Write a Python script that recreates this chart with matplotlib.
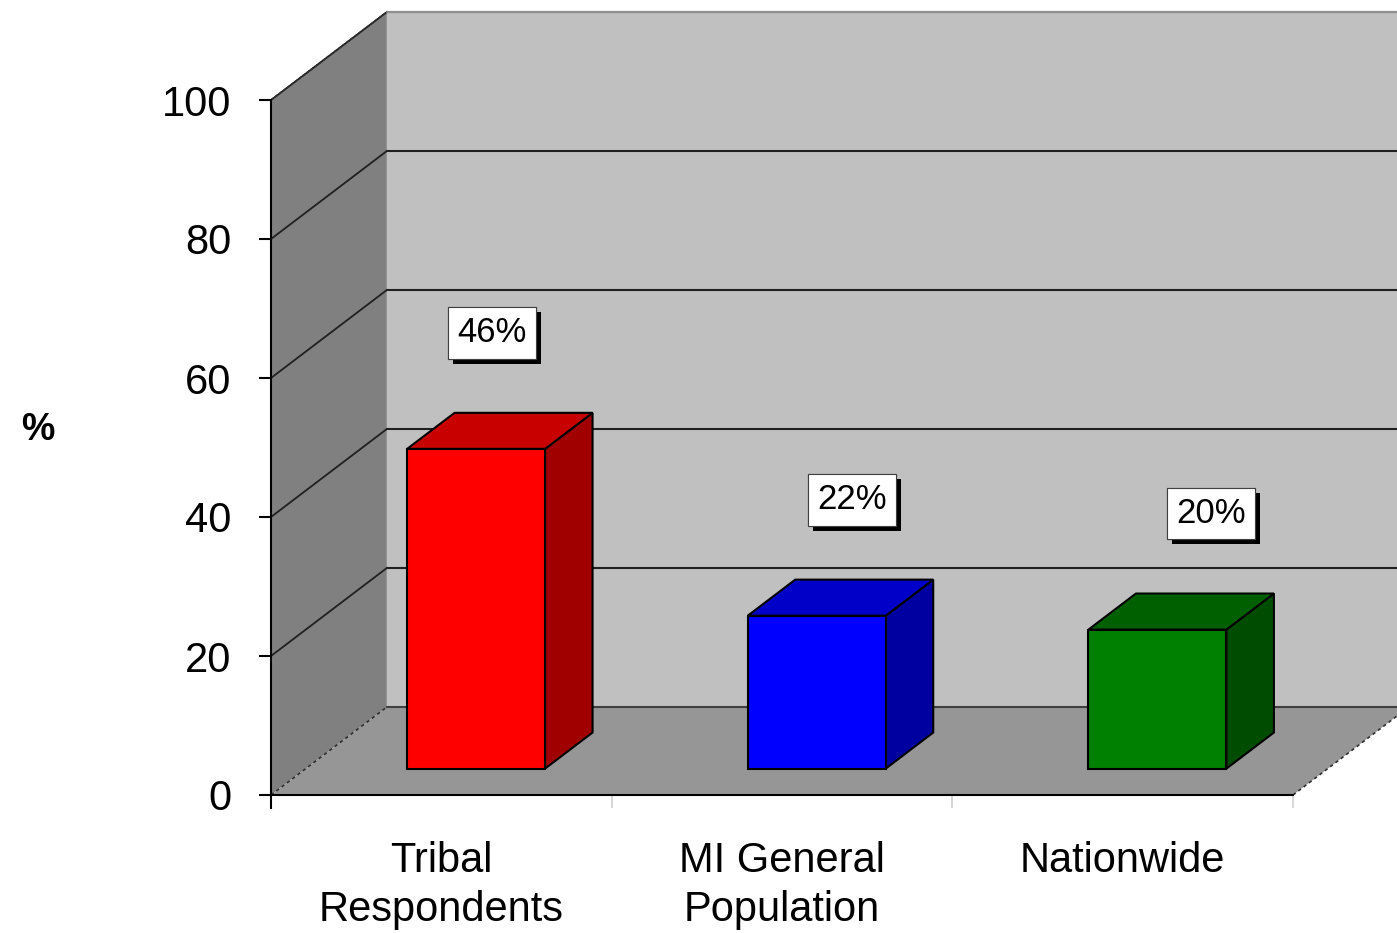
import matplotlib
matplotlib.use("Agg")
import matplotlib.pyplot as plt
from matplotlib.patches import Polygon
from matplotlib import patheffects

plt.rcParams['font.family'] = ['Liberation Sans', 'DejaVu Sans']

# data
categories = ["Tribal\nRespondents", "MI General\nPopulation", "Nationwide"]
values = [46, 22, 20]
labels = ["46%", "22%", "20%"]
yticks = [0, 20, 40, 60, 80, 100]

front_cols = ["#FF0000", "#0000FF", "#008000"]
top_cols = ["#C80000", "#0000C8", "#006000"]
side_cols = ["#A00000", "#0000A0", "#004C00"]

# 3d look: depth offset of the back wall (in data units)
DX, DY = 0.34, 12.66
F0, F1 = 0.30, 0.71   # bar front / back depth fraction
W = 0.405

fig = plt.figure(figsize=(13.97, 9.33), dpi=100)
ax = fig.add_axes([0, 0, 1, 1])
ax.patch.set_visible(False)
ax.set_xlim(-271 / 340.67, (1397 - 271) / 340.67)
ax.set_ylim(-138 / 6.95, 795 / 6.95)
n = len(categories)

# walls and floor
ax.add_patch(Polygon([(0, 0), (DX, DY), (DX, 100 + DY), (0, 100)],
                     fc="#808080", ec="none", zorder=1))
ax.add_patch(Polygon([(DX, DY), (n + DX, DY), (n + DX, 100 + DY), (DX, 100 + DY)],
                     fc="#C0C0C0", ec="none", zorder=1))
ax.add_patch(Polygon([(0, 0), (n, 0), (n + DX, DY), (DX, DY)],
                     fc="#969696", ec="none", zorder=1))

# gridlines
for g in yticks[1:]:
    ax.plot([0, DX], [g, g + DY], color="#202020", lw=1.3, zorder=2)
    ax.plot([DX, n + DX], [g + DY, g + DY], color="#202020", lw=1.5, zorder=2)
ax.plot([DX, n + DX], [DY, DY], color="#404040", lw=1.5, zorder=2)
ax.plot([0, DX], [0, DY], color="#303030", lw=1.2, ls=(0, (2, 2)), zorder=2)
ax.plot([n, n + DX], [0, DY], color="#303030", lw=1.2, ls=(0, (2, 2)), zorder=2)
ax.plot([DX, n + DX], [100 + DY, 100 + DY], color="#909090", lw=1.5, zorder=2)
ax.plot([0, DX], [100, 100 + DY], color="#303030", lw=1.2, ls=(0, (2, 1)), zorder=2)

# bars
for i, v in enumerate(values):
    xl = i + 0.5 - W / 2 + F0 * DX
    xr = xl + W
    y0 = F0 * DY
    ddx = (F1 - F0) * DX
    ddy = (F1 - F0) * DY
    ax.add_patch(Polygon([(xr, y0), (xr + ddx, y0 + ddy), (xr + ddx, v + y0 + ddy), (xr, v + y0)],
                         fc=side_cols[i], ec="black", lw=1.5, zorder=3))
    ax.add_patch(Polygon([(xl, v + y0), (xr, v + y0), (xr + ddx, v + y0 + ddy), (xl + ddx, v + y0 + ddy)],
                         fc=top_cols[i], ec="black", lw=1.5, zorder=3))
    ax.add_patch(Polygon([(xl, y0), (xr, y0), (xr, v + y0), (xl, v + y0)],
                         fc=front_cols[i], ec="black", lw=1.5, zorder=3))

    lx = i + 0.5 + 0.15 + 0.055 * i
    ly = v + 20.5
    t = ax.text(lx, ly, labels[i], ha="center", va="center", fontsize=25, color="black", zorder=6,
                bbox=dict(boxstyle="square,pad=0.27", fc="white", ec="#404040", lw=0.8))
    t.get_bbox_patch().set_path_effects([
        patheffects.withSimplePatchShadow(offset=(3.6, -3.6), shadow_rgbFace="black", alpha=1.0),
        patheffects.Normal()])

# axes
for s in ["top", "right"]:
    ax.spines[s].set_visible(False)
ax.spines["left"].set_position(("data", 0))
ax.spines["bottom"].set_position(("data", 0))
ax.spines["left"].set_bounds(-1.9, 100)
ax.spines["bottom"].set_bounds(0, n)
for s in ["left", "bottom"]:
    ax.spines[s].set_linewidth(1.5)
    ax.spines[s].set_zorder(4)

ax.set_yticks(yticks)
ax.set_yticklabels([str(t) for t in yticks], fontsize=30)
ax.tick_params(axis="y", length=8.6, width=1.5, pad=20)

ax.set_xticks([i + 0.5 for i in range(n)])
ax.set_xticklabels(categories, fontsize=30, linespacing=1.3)
ax.set_xticks(range(n + 1), minor=True)
ax.tick_params(axis="x", which="major", length=0, pad=33)
ax.tick_params(axis="x", which="minor", length=9.4, width=1.2, color="#d0d0d0")

fig.text(38 / 1397, 1 - 430 / 933, "%", fontsize=27, fontweight="bold", ha="center", va="center")

fig.savefig("out.png", dpi=100)
